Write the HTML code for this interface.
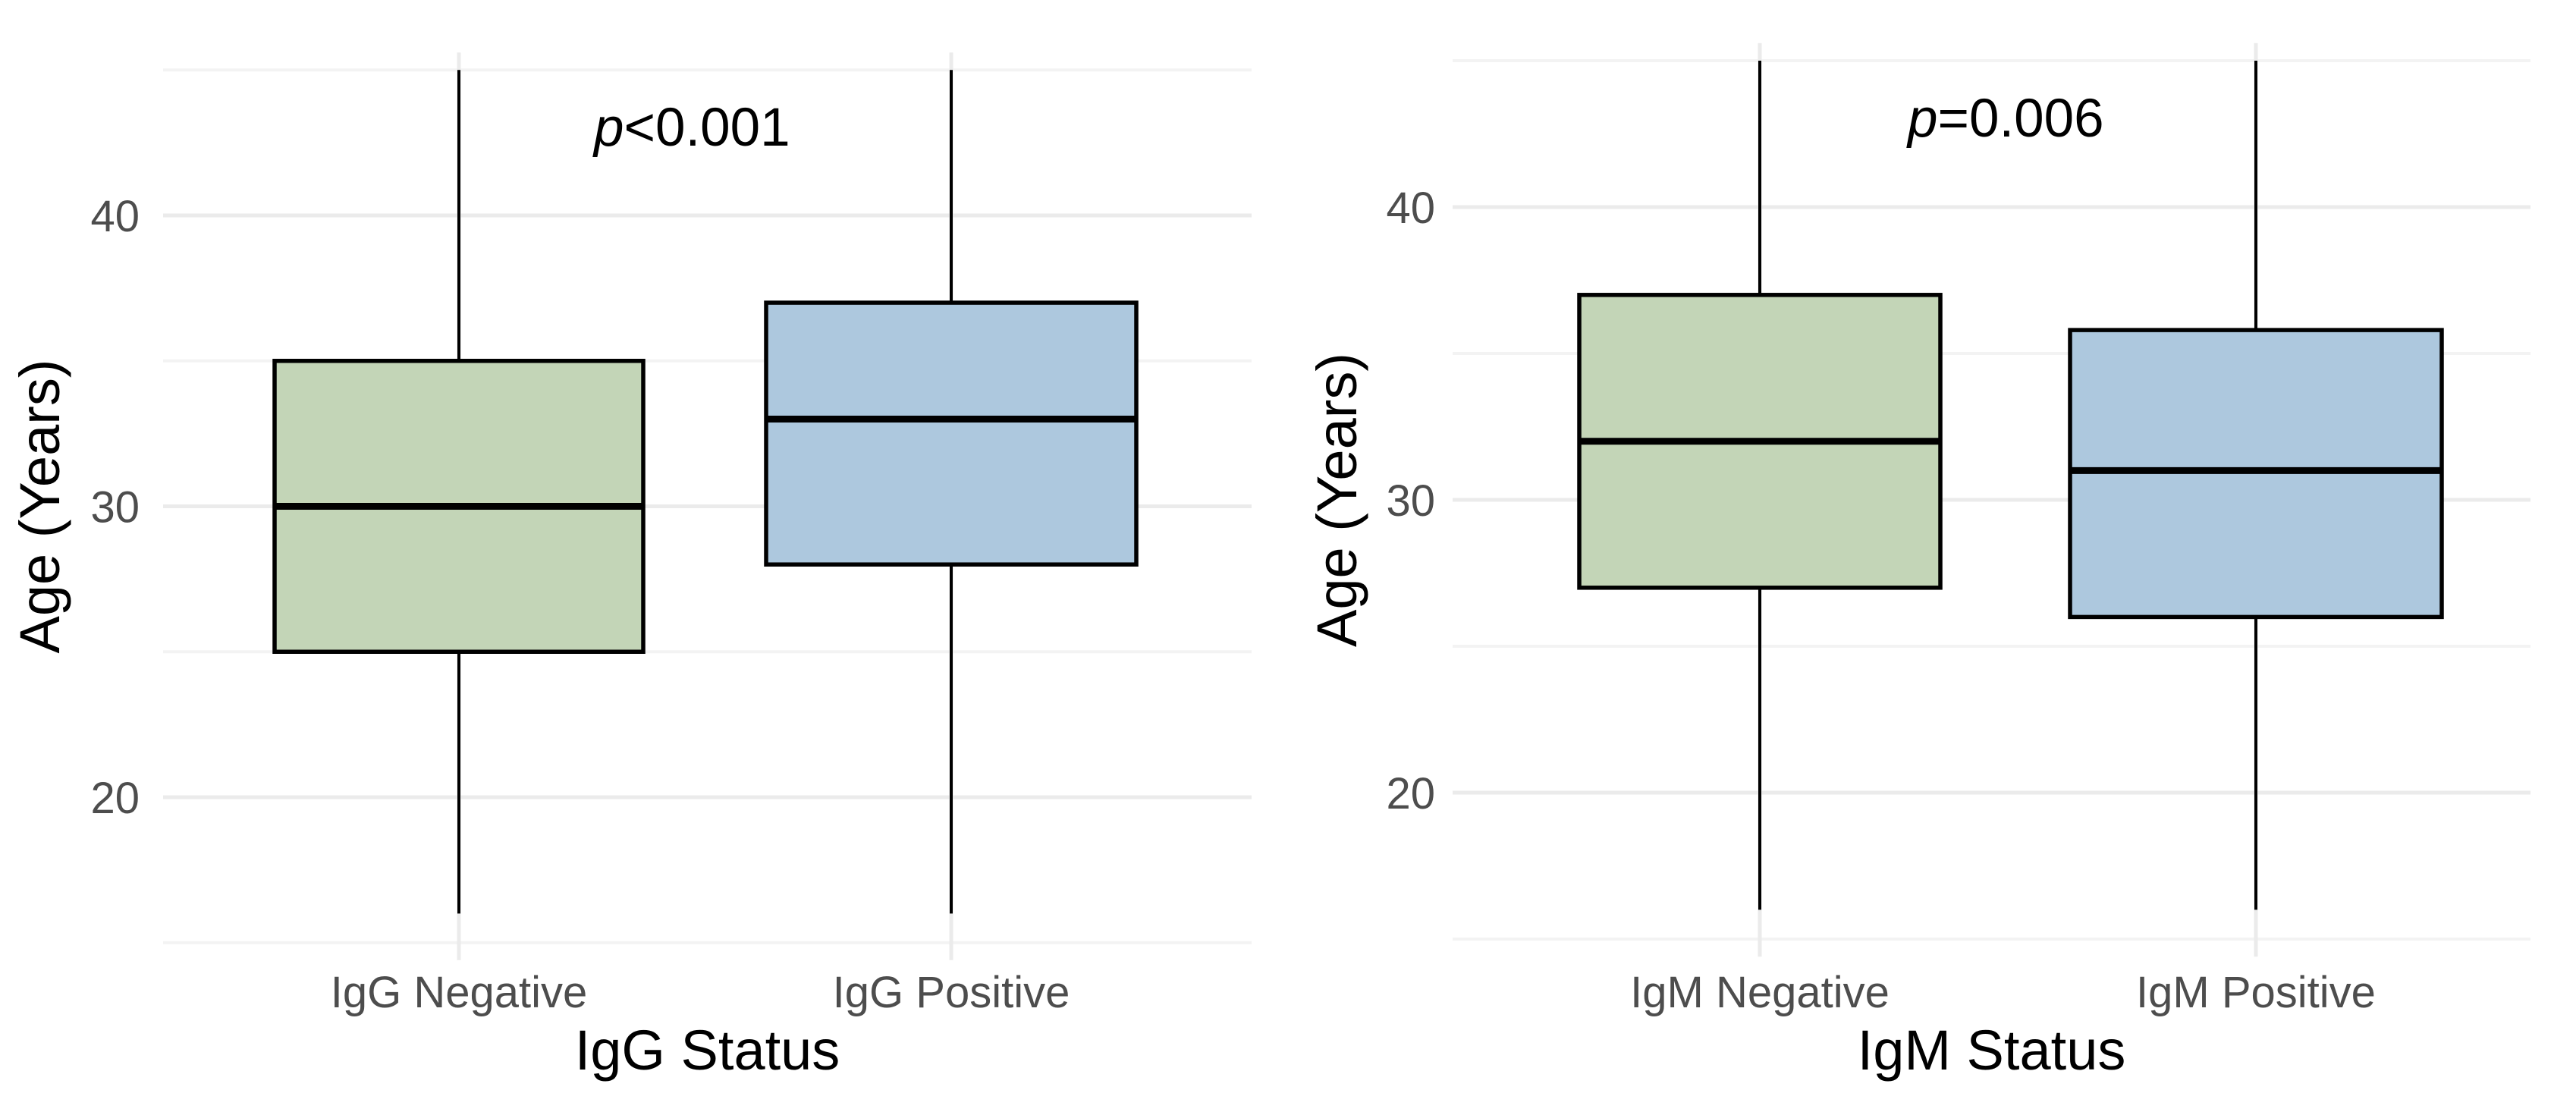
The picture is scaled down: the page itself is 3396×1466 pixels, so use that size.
<!DOCTYPE html>
<html><head><meta charset="utf-8"><style>
html,body{margin:0;padding:0;background:#fff;}
svg{display:block;font-family:"Liberation Sans",Arial,sans-serif;}
</style></head><body>
<svg id="chart" width="3396" height="1466" viewBox="0 0 3396 1466" xmlns="http://www.w3.org/2000/svg"></svg>
<script>
const categoriesIgG = ["IgG Negative", "IgG Positive"];
const minIgG = [16, 16];
const q1IgG = [25, 28];
const medianIgG = [30, 33];
const q3IgG = [35, 37];
const maxIgG = [45, 45];
const categoriesIgM = ["IgM Negative", "IgM Positive"];
const minIgM = [16, 16];
const q1IgM = [27, 26];
const medianIgM = [32, 31];
const q3IgM = [37, 35.8];
const maxIgM = [45, 45];
const majorTicks = [20, 30, 40];
const minorTicks = [15, 25, 35, 45];
const pLabels = ["<0.001", "=0.006"];

const svg = document.getElementById('chart');
const NS = "http://www.w3.org/2000/svg";
function mk(tag, attrs, parent){
  const e = document.createElementNS(NS, tag);
  for (const k in attrs) e.setAttribute(k, attrs[k]);
  (parent||svg).appendChild(e);
  return e;
}
const fills = ["#c3d5b7", "#adc8de"];

function panel(p){
  const g = mk('g', {});
  
  
  const y = v => p.y40 + (40 - v) * p.unit;
  const centers = p.centers;
  minorTicks.forEach(t => {
    const l = mk('line', {x1:p.x0, x2:p.x1, y1:y(t), y2:y(t), stroke:'#f3f3f3', 'stroke-width':4}, g);
    
    
  });
  majorTicks.forEach(t => {
    const l = mk('line', {x1:p.x0, x2:p.x1, y1:y(t), y2:y(t), stroke:'#ebebeb', 'stroke-width':5}, g);
    
    
    const tx = mk('text', {x:p.labelRight, y:y(t)+21, 'text-anchor':'end', 'font-size':58, fill:'#4d4d4d'}, g);
    tx.textContent = t;
    
    
  });
  centers.forEach(cx => {
    const l = mk('line', {x1:cx, x2:cx, y1:y(45.6), y2:y(14.4), stroke:'#ebebeb', 'stroke-width':5}, g);
    
    
  });
  p.cats.forEach((c, i) => {
    const cx = centers[i], hw = p.halfW[i];
    const w = mk('line', {x1:cx, x2:cx, y1:y(p.max[i]), y2:y(p.min[i]), stroke:'#000', 'stroke-width':4}, g);
    
    
    const r = mk('rect', {x:cx-hw, y:y(p.q3[i]), width:hw*2, height:y(p.q1[i])-y(p.q3[i]), fill:fills[i], stroke:'#000', 'stroke-width':5.5}, g);
    
    
    const m = mk('line', {x1:cx-hw, x2:cx+hw, y1:y(p.med[i]), y2:y(p.med[i]), stroke:'#000', 'stroke-width':9}, g);
    
    
    const t = mk('text', {x:cx, y:1328, 'text-anchor':'middle', 'font-size':58, fill:'#4d4d4d'}, g);
    t.textContent = c;
    
    
  });
  const xt = mk('text', {x:(p.x0+p.x1)/2, y:1410, 'text-anchor':'middle', 'font-size':74, fill:'#000'}, g);
  xt.textContent = p.xtitle;
  
  
  const yt = mk('text', {x:0, y:0, 'text-anchor':'middle', 'font-size':74, fill:'#000', transform:'translate('+p.ytX+','+y(30)+') rotate(-90)'}, g);
  yt.textContent = 'Age (Years)';
  
  
  const pt = mk('text', {x:p.pX, y:p.pY, 'font-size':71, fill:'#000'}, g);
  
  
  const ts = mk('tspan', {'font-style':'italic'}, pt);
  ts.textContent = 'p';
  const ts2 = mk('tspan', {}, pt);
  ts2.textContent = p.ptext;
}

panel({name:'igg-panel', x0:215, x1:1650, y40:284, unit:38.35, centers:[605,1254], halfW:[243,244],
  cats:categoriesIgG, min:minIgG, q1:q1IgG, med:medianIgG, q3:q3IgG, max:maxIgG,
  labelRight:184, xtitle:'IgG Status', ytX:78, pX:783, pY:192, ptext:pLabels[0]});
panel({name:'igm-panel', x0:1915, x1:3336, y40:273, unit:38.6, centers:[2320,2974], halfW:[238,245],
  cats:categoriesIgM, min:minIgM, q1:q1IgM, med:medianIgM, q3:q3IgM, max:maxIgM,
  labelRight:1892, xtitle:'IgM Status', ytX:1788, pX:2515, pY:180, ptext:pLabels[1]});
</script>
</body></html>
